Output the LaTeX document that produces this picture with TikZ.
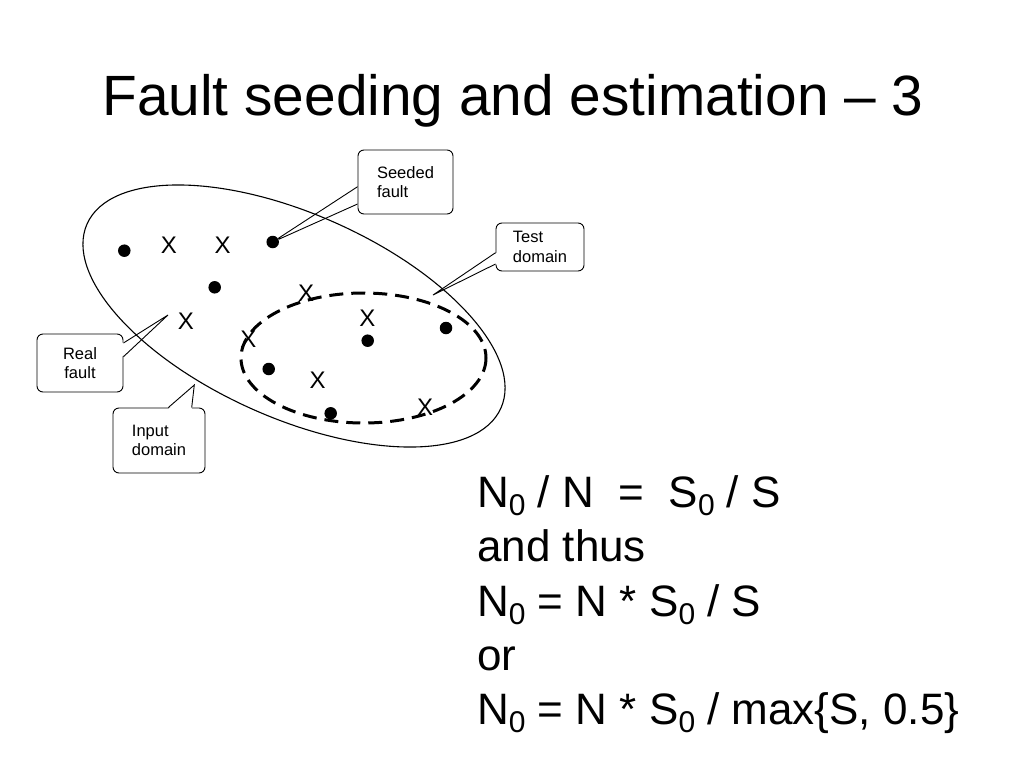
\documentclass[tikz,border=0pt]{standalone}
\usepackage{fontspec}
\setmainfont{Liberation Sans}
\usepackage{tikz}
\usetikzlibrary{calc}

\newcommand{\lowzero}{\raisebox{-8pt}{\fontsize{30}{30}\selectfont 0}}

\begin{document}
\begin{tikzpicture}[x=1pt, y=-1pt,
        seedfault/.style = {circle, fill = black, inner sep = 0pt, minimum size = 12.5pt},
        realfault/.style = {inner sep = 0pt, font = \fontsize{24}{24}\selectfont},
        callout/.style = {draw, line width = 0.9pt, rounded corners = 6pt, inner sep = 0pt,
            font = \fontsize{16.5}{19.5}\selectfont},
        eqline/.style = {anchor = base west, inner sep = 0pt, font = \fontsize{44}{44}\selectfont}]
        \useasboundingbox [fill = white] (0, 0) rectangle (1024, 768);

        \node [anchor = base, inner sep = 0pt, font = \fontsize{56.8}{56.8}\selectfont] (title)
            at (513, 115) {Fault seeding and estimation -- 3};

        % seeded faults
        \node [seedfault] (s1) at (124.3, 250.7) {};
        \node [seedfault] (s2) at (272.7, 242) {};
        \node [seedfault] (s3) at (214.7, 287.3) {};
        \node [seedfault] (s4) at (367.7, 340.7) {};
        \node [seedfault] (s5) at (446, 328) {};
        \node [seedfault] (s6) at (268.7, 369) {};
        \node [seedfault] (s7) at (330.7, 413.3) {};

        % real faults
        \node [realfault] (r1) at (169, 245.7) {X};
        \node [realfault] (r2) at (222.7, 245.7) {X};
        \node [realfault] (r3) at (306, 293) {X};
        \node [realfault] (r4) at (186, 321.7) {X};
        \node [realfault] (r5) at (367.3, 318.3) {X};
        \node [realfault] (r6) at (248.3, 339.3) {X};
        \node [realfault] (r7) at (317.7, 380) {X};
        \node [realfault] (r8) at (425, 407.7) {X};

        \coordinate (testtip) at (433, 295);
        \coordinate (realtip) at (168, 315);
        \coordinate (inputtip) at (194.3, 385);

        \node [callout, minimum width = 95pt, minimum height = 64pt, align = left] (seedbox)
            at (405.5, 182) {Seeded\\fault};
        \node [callout, minimum width = 88pt, minimum height = 48pt, align = left] (testbox)
            at (540, 247) {Test\\domain};
        \node [callout, minimum width = 86pt, minimum height = 58pt, align = center] (realbox)
            at (80, 363) {Real\\fault};
        \node [callout, minimum width = 92pt, minimum height = 65pt, align = left] (inputbox)
            at (159, 440.5) {Input\\domain};

        \coordinate (seedA) at (seedbox.west |- 0, 186.7);
        \coordinate (seedB) at (seedbox.west |- 0, 204);
        \fill [white] ([xshift = 1.5pt]seedA) -- (s2) -- ([xshift = 1.5pt]seedB) -- cycle;
        \draw [line width = 0.9pt] (seedA) -- (s2) -- (seedB);

        \coordinate (testA) at (testbox.west |- 0, 252.7);
        \coordinate (testB) at (testbox.west |- 0, 264);
        \fill [white] ([xshift = 1.5pt]testA) -- (testtip) -- ([xshift = 1.5pt]testB) -- cycle;
        \draw [line width = 0.9pt] (testA) -- (testtip) -- (testB);

        \coordinate (realA) at (realbox.east |- 0, 343);
        \coordinate (realB) at (realbox.east |- 0, 356.7);
        \fill [white] ([xshift = -1.5pt]realA) -- (realtip) -- ([xshift = -1.5pt]realB) -- cycle;
        \draw [line width = 0.9pt] (realA) -- (realtip) -- (realB);

        \coordinate (inputA) at (168.3, 0 |- inputbox.north);
        \coordinate (inputB) at (191.7, 0 |- inputbox.north);
        \fill [white] ([yshift = -1.5pt]inputA) -- (inputtip) -- ([yshift = -1.5pt]inputB) -- cycle;
        \draw [line width = 0.9pt] (inputA) -- (inputtip) -- (inputB);

        % input domain and test domain
        \draw [line width = 1.1pt, rotate around = {-24:(294, 316)}] (294, 316) ellipse (226.5 and 102);
        \draw [line width = 3pt, dash pattern = on 14pt off 8pt] (363.5, 358) ellipse (122.5 and 65);

        \node [eqline] (eqa) at (477, 507) {N\lowzero{} / N\ \ =\ \ S\lowzero{} / S};
        \node [eqline] (eqb) at (477, 561.5) {and thus};
        \node [eqline] (eqc) at (477, 616) {N\lowzero{} = N * S\lowzero{} / S};
        \node [eqline] (eqd) at (477, 670) {or};
        \node [eqline] (eqe) at (477, 724.5) {N\lowzero{} = N * S\lowzero{} / max\{S, 0.5\}};
        \end{tikzpicture}
\end{document}
